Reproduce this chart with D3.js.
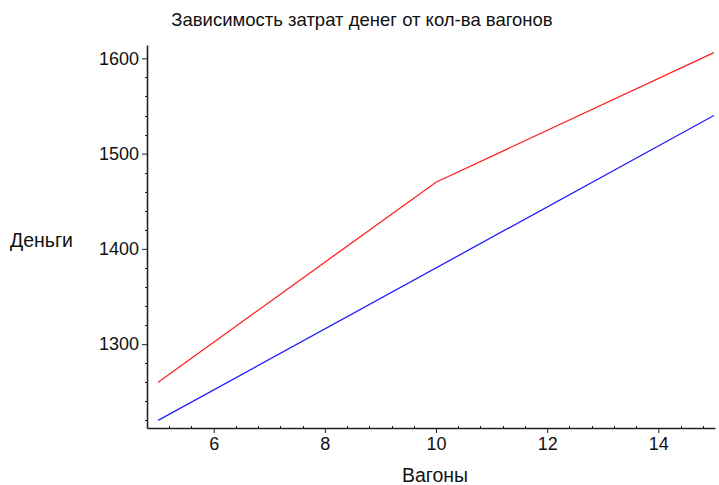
<!DOCTYPE html>
<html lang="ru">
<head>
<meta charset="UTF-8">
<title>wagons</title>
<script src="https://cdn.jsdelivr.net/npm/d3@7"></script>
<style>
  body { margin: 0; background: #fff; }
  svg { display: block; }
  text { font-family: "Liberation Sans", Arial, sans-serif; fill: #111; }
  .axis path, .axis line { stroke: #222; }
</style>
</head>
<body>
<div id="viz"></div>
<script>
// data
var redX = [5, 10, 15];
var redY = [1260, 1470, 1606];
var blueX = [5, 15];
var blueY = [1220, 1540];
var xTicks = [6, 8, 10, 12, 14];
var yTicks = [1300, 1400, 1500, 1600];

var width = 719, height = 485;
var margin = {top: 45, right: 4, bottom: 57, left: 147};

var x = d3.scaleLinear().domain([4.8, 15.02]).range([margin.left, width - margin.right]);
var y = d3.scaleLinear().domain([1212, 1614]).range([height - margin.bottom, margin.top]);

var svg = d3.select('#viz').append('svg')
  .attr('width', width)
  .attr('height', height);

// minor ticks
var xMinor = d3.range(5.2, 15.01, 0.4).filter(function (v) { return Math.abs(v / 2 - Math.round(v / 2)) > 0.01; });
var yMinor = d3.range(1220, 1614, 20).filter(function (v) { return v % 100 !== 0; });

svg.append('g').selectAll('line').data(xMinor).enter().append('line')
  .attr('x1', function (d) { return Math.round(x(d)) + 0.5; })
  .attr('x2', function (d) { return Math.round(x(d)) + 0.5; })
  .attr('y1', y.range()[0] - 2).attr('y2', y.range()[0])
  .attr('stroke', '#222');

svg.append('g').selectAll('line').data(yMinor).enter().append('line')
  .attr('y1', function (d) { return Math.round(y(d)) + 0.5; })
  .attr('y2', function (d) { return Math.round(y(d)) + 0.5; })
  .attr('x1', margin.left - 2).attr('x2', margin.left)
  .attr('stroke', '#222');

var xAxis = svg.append('g')
  .attr('class', 'axis')
  .attr('transform', 'translate(0,' + y.range()[0] + ')')
  .call(d3.axisBottom(x).tickValues(xTicks).tickFormat(d3.format('d')).tickSize(5).tickSizeOuter(0).tickPadding(4));

var yAxis = svg.append('g')
  .attr('class', 'axis')
  .attr('transform', 'translate(' + margin.left + ',0)')
  .call(d3.axisLeft(y).tickValues(yTicks).tickFormat(d3.format('d')).tickSize(5).tickSizeOuter(0).tickPadding(3));

[xAxis, yAxis].forEach(function (a) {
  a.select('.domain').attr('stroke-width', 1.6);
  a.selectAll('text').style('font-size', '18px').style('font-family', '"Liberation Sans", Arial, sans-serif').attr('fill', '#111');
});

var line = d3.line()
  .x(function (d) { return x(d[0]); })
  .y(function (d) { return y(d[1]); });

svg.append('path')
  .datum(d3.zip(redX, redY))
  .attr('d', line)
  .attr('fill', 'none')
  .attr('stroke', '#ff2020')
  .attr('stroke-width', 1.3);

svg.append('path')
  .datum(d3.zip(blueX, blueY))
  .attr('d', line)
  .attr('fill', 'none')
  .attr('stroke', '#2020ff')
  .attr('stroke-width', 1.3);

svg.append('text')
  .attr('x', 362).attr('y', 26)
  .attr('text-anchor', 'middle')
  .style('font-size', '18.5px')
  .text('Зависимость затрат денег от кол-ва вагонов');

svg.append('text')
  .attr('x', 10).attr('y', 247)
  .style('font-size', '19.5px')
  .text('Деньги');

svg.append('text')
  .attr('x', 435).attr('y', 482)
  .attr('text-anchor', 'middle')
  .style('font-size', '19.5px')
  .text('Вагоны');
</script>
</body>
</html>
